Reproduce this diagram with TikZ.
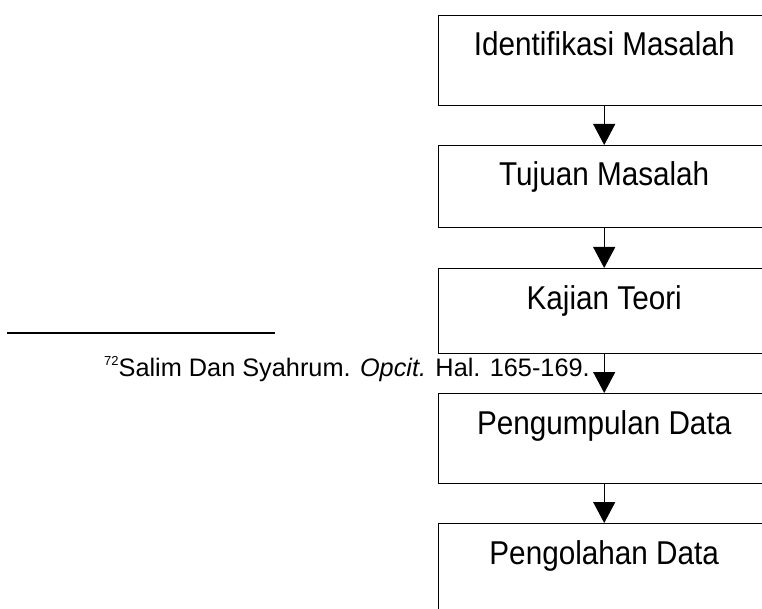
\documentclass[tikz,border=0pt]{standalone}
\usepackage{fontspec}
\setmainfont{Liberation Sans}
\newfontfamily\boxfont[FakeStretch=0.9]{Liberation Sans}
\usetikzlibrary{arrows.meta}
\begin{document}
\begin{tikzpicture}[x=1pt,y=-1pt,
  flowbox/.style={draw=black, line width=1.4pt, minimum width=332pt, inner sep=0pt, anchor=north west},
  boxtext/.style={font=\boxfont\fontsize{33}{38}\selectfont, inner sep=0pt, anchor=base, yshift=-41pt},
  flowarrow/.style={line width=1.2pt, -{Triangle[width=22pt,length=21pt]}},
  fnrule/.style={line width=1.5pt}]
\useasboundingbox (0,0) rectangle (762,609);
\clip (0,0) rectangle (762,609);
\node[flowbox, minimum height=90pt, label={[boxtext, name=t1]north:Identifikasi Masalah}] (b1) at (437.5,15) {};
\node[flowbox, minimum height=82pt, label={[boxtext, name=t2]north:Tujuan Masalah}] (b2) at (437.5,145) {};
\node[flowbox, minimum height=85pt, label={[boxtext, name=t3]north:Kajian Teori}] (b3) at (437.5,268) {};
\node[flowbox, minimum height=90pt, label={[boxtext, name=t4]north:Pengumpulan Data}] (b4) at (437.5,393) {};
\node[flowbox, minimum height=120pt, label={[boxtext, name=t5]north:Pengolahan Data}] (b5) at (437.5,523) {};
\draw[flowarrow] (b1.south) -- (b2.north);
\draw[flowarrow] (b2.south) -- (b3.north);
\draw[flowarrow] (b3.south) -- (b4.north);
\draw[flowarrow] (b4.south) -- (b5.north);
\coordinate (r1) at (7,333);
\coordinate (r2) at (275,333);
\draw[fnrule] (r1) -- (r2);
\node[anchor=base west, inner sep=0pt, font=\fontsize{25.3}{30}\selectfont] (fn) at (104,376)
  {\raisebox{11pt}{\fontsize{13}{13}\selectfont 72}Salim Dan Syahrum. \textit{Opcit.} Hal. 165-169.};
\end{tikzpicture}
\end{document}
